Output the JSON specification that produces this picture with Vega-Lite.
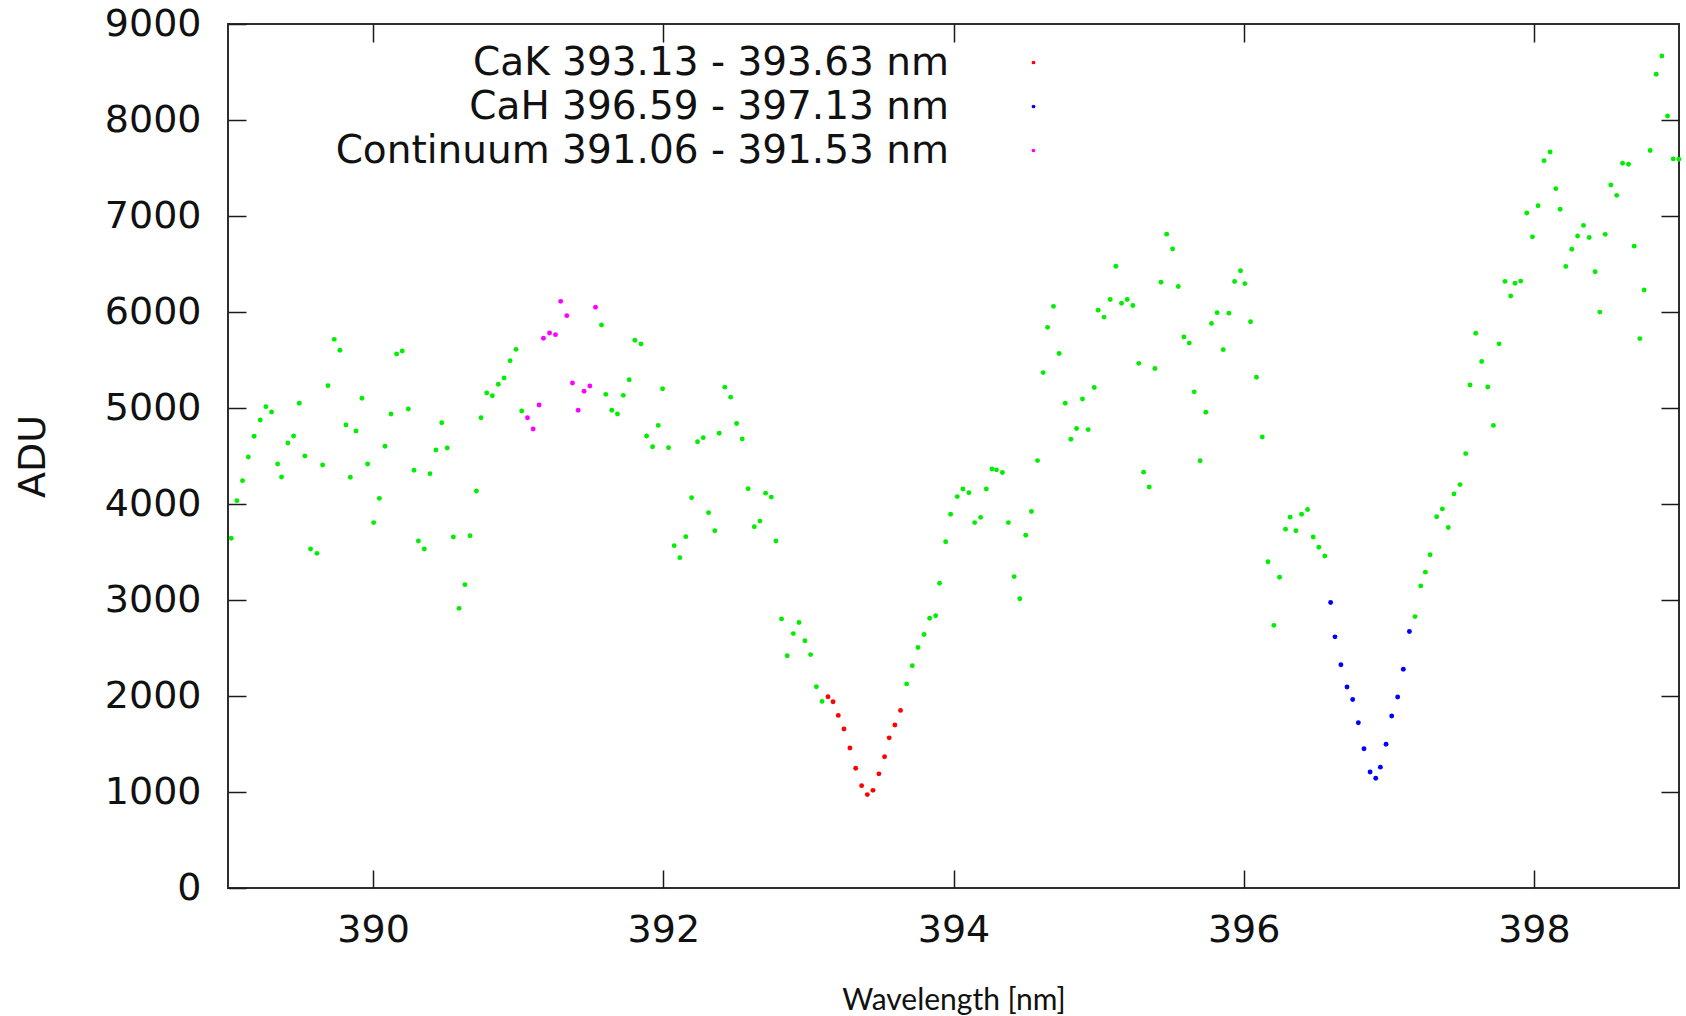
{
  "$schema": "https://vega.github.io/schema/vega-lite/v6.json",
  "autosize": {"type": "none"},
  "padding": {"left": 228, "top": 24, "right": 7, "bottom": 128},
  "width": 1451,
  "height": 864,
  "background": "white",
  "datasets": {
    "spectrum": [
      {"wl": 389.022, "adu": 3643}, {"wl": 389.061, "adu": 4035}, {"wl": 389.100, "adu": 4243}, {"wl": 389.140, "adu": 4490},
      {"wl": 389.180, "adu": 4705}, {"wl": 389.222, "adu": 4875}, {"wl": 389.261, "adu": 5014}, {"wl": 389.300, "adu": 4958},
      {"wl": 389.342, "adu": 4417}, {"wl": 389.369, "adu": 4281}, {"wl": 389.413, "adu": 4635}, {"wl": 389.452, "adu": 4708},
      {"wl": 389.491, "adu": 5049}, {"wl": 389.530, "adu": 4500}, {"wl": 389.569, "adu": 3531}, {"wl": 389.613, "adu": 3486},
      {"wl": 389.652, "adu": 4406}, {"wl": 389.689, "adu": 5233}, {"wl": 389.732, "adu": 5715}, {"wl": 389.771, "adu": 5601},
      {"wl": 389.813, "adu": 4823}, {"wl": 389.843, "adu": 4278}, {"wl": 389.882, "adu": 4760}, {"wl": 389.923, "adu": 5101},
      {"wl": 389.962, "adu": 4417}, {"wl": 390.004, "adu": 3806}, {"wl": 390.043, "adu": 4059}, {"wl": 390.082, "adu": 4601},
      {"wl": 390.123, "adu": 4937}, {"wl": 390.162, "adu": 5562}, {"wl": 390.201, "adu": 5594}, {"wl": 390.243, "adu": 4990},
      {"wl": 390.282, "adu": 4351}, {"wl": 390.312, "adu": 3615}, {"wl": 390.353, "adu": 3531}, {"wl": 390.392, "adu": 4316},
      {"wl": 390.433, "adu": 4562}, {"wl": 390.473, "adu": 4847}, {"wl": 390.511, "adu": 4583}, {"wl": 390.553, "adu": 3656},
      {"wl": 390.592, "adu": 2913}, {"wl": 390.633, "adu": 3160}, {"wl": 390.668, "adu": 3670}, {"wl": 390.712, "adu": 4135},
      {"wl": 390.744, "adu": 4899}, {"wl": 390.783, "adu": 5156}, {"wl": 390.822, "adu": 5128}, {"wl": 390.863, "adu": 5247},
      {"wl": 390.903, "adu": 5312}, {"wl": 390.944, "adu": 5493}, {"wl": 390.985, "adu": 5611}, {"wl": 391.024, "adu": 4969},
      {"wl": 391.574, "adu": 5865}, {"wl": 391.604, "adu": 5142}, {"wl": 391.645, "adu": 4976}, {"wl": 391.684, "adu": 4937},
      {"wl": 391.724, "adu": 5132}, {"wl": 391.765, "adu": 5295}, {"wl": 391.804, "adu": 5705}, {"wl": 391.846, "adu": 5667},
      {"wl": 391.885, "adu": 4708}, {"wl": 391.926, "adu": 4597}, {"wl": 391.965, "adu": 4819}, {"wl": 391.995, "adu": 5201},
      {"wl": 392.036, "adu": 4587}, {"wl": 392.075, "adu": 3566}, {"wl": 392.114, "adu": 3441}, {"wl": 392.155, "adu": 3660},
      {"wl": 392.195, "adu": 4066}, {"wl": 392.236, "adu": 4649}, {"wl": 392.275, "adu": 4691}, {"wl": 392.312, "adu": 3910},
      {"wl": 392.355, "adu": 3722}, {"wl": 392.385, "adu": 4737}, {"wl": 392.424, "adu": 5217}, {"wl": 392.464, "adu": 5113},
      {"wl": 392.505, "adu": 4838}, {"wl": 392.544, "adu": 4678}, {"wl": 392.585, "adu": 4160}, {"wl": 392.627, "adu": 3763},
      {"wl": 392.666, "adu": 3822}, {"wl": 392.705, "adu": 4113}, {"wl": 392.744, "adu": 4072}, {"wl": 392.776, "adu": 3614},
      {"wl": 392.815, "adu": 2803}, {"wl": 392.854, "adu": 2420}, {"wl": 392.896, "adu": 2650}, {"wl": 392.935, "adu": 2766},
      {"wl": 392.976, "adu": 2576}, {"wl": 393.015, "adu": 2431}, {"wl": 393.055, "adu": 2096}, {"wl": 393.094, "adu": 1944},
      {"wl": 393.677, "adu": 2126}, {"wl": 393.716, "adu": 2316}, {"wl": 393.755, "adu": 2505}, {"wl": 393.797, "adu": 2640},
      {"wl": 393.836, "adu": 2810}, {"wl": 393.877, "adu": 2836}, {"wl": 393.904, "adu": 3175}, {"wl": 393.946, "adu": 3606},
      {"wl": 393.980, "adu": 3893}, {"wl": 394.026, "adu": 4077}, {"wl": 394.065, "adu": 4157}, {"wl": 394.106, "adu": 4117},
      {"wl": 394.146, "adu": 3806}, {"wl": 394.187, "adu": 3861}, {"wl": 394.226, "adu": 4157}, {"wl": 394.265, "adu": 4365},
      {"wl": 394.296, "adu": 4356}, {"wl": 394.337, "adu": 4328}, {"wl": 394.378, "adu": 3806}, {"wl": 394.418, "adu": 3244},
      {"wl": 394.457, "adu": 3013}, {"wl": 394.498, "adu": 3675}, {"wl": 394.537, "adu": 3922}, {"wl": 394.579, "adu": 4452},
      {"wl": 394.618, "adu": 5369}, {"wl": 394.648, "adu": 5840}, {"wl": 394.689, "adu": 6059}, {"wl": 394.728, "adu": 5568},
      {"wl": 394.770, "adu": 5050}, {"wl": 394.809, "adu": 4675}, {"wl": 394.848, "adu": 4786}, {"wl": 394.889, "adu": 5094},
      {"wl": 394.928, "adu": 4775}, {"wl": 394.970, "adu": 5214}, {"wl": 394.997, "adu": 6019}, {"wl": 395.038, "adu": 5947},
      {"wl": 395.080, "adu": 6130}, {"wl": 395.119, "adu": 6477}, {"wl": 395.158, "adu": 6091}, {"wl": 395.197, "adu": 6130},
      {"wl": 395.236, "adu": 6067}, {"wl": 395.277, "adu": 5465}, {"wl": 395.310, "adu": 4332}, {"wl": 395.349, "adu": 4177},
      {"wl": 395.388, "adu": 5412}, {"wl": 395.430, "adu": 6310}, {"wl": 395.469, "adu": 6811}, {"wl": 395.510, "adu": 6656},
      {"wl": 395.549, "adu": 6266}, {"wl": 395.588, "adu": 5740}, {"wl": 395.625, "adu": 5676}, {"wl": 395.659, "adu": 5168},
      {"wl": 395.700, "adu": 4451}, {"wl": 395.739, "adu": 4956}, {"wl": 395.778, "adu": 5881}, {"wl": 395.817, "adu": 5993},
      {"wl": 395.859, "adu": 5608}, {"wl": 395.898, "adu": 5988}, {"wl": 395.937, "adu": 6317}, {"wl": 395.978, "adu": 6429},
      {"wl": 396.008, "adu": 6296}, {"wl": 396.047, "adu": 5898}, {"wl": 396.088, "adu": 5320}, {"wl": 396.128, "adu": 4698},
      {"wl": 396.167, "adu": 3398}, {"wl": 396.208, "adu": 2736}, {"wl": 396.247, "adu": 3237}, {"wl": 396.288, "adu": 3738},
      {"wl": 396.320, "adu": 3863}, {"wl": 396.360, "adu": 3722}, {"wl": 396.399, "adu": 3894}, {"wl": 396.440, "adu": 3942},
      {"wl": 396.479, "adu": 3656}, {"wl": 396.518, "adu": 3549}, {"wl": 396.559, "adu": 3458},
      {"wl": 397.181, "adu": 2827}, {"wl": 397.220, "adu": 3147}, {"wl": 397.252, "adu": 3290}, {"wl": 397.285, "adu": 3471},
      {"wl": 397.330, "adu": 3867}, {"wl": 397.369, "adu": 3949}, {"wl": 397.410, "adu": 3755}, {"wl": 397.449, "adu": 4105},
      {"wl": 397.491, "adu": 4202}, {"wl": 397.530, "adu": 4525}, {"wl": 397.560, "adu": 5240}, {"wl": 397.599, "adu": 5779},
      {"wl": 397.640, "adu": 5485}, {"wl": 397.682, "adu": 5218}, {"wl": 397.721, "adu": 4819}, {"wl": 397.760, "adu": 5668},
      {"wl": 397.801, "adu": 6319}, {"wl": 397.840, "adu": 6166}, {"wl": 397.870, "adu": 6300}, {"wl": 397.909, "adu": 6322},
      {"wl": 397.951, "adu": 7032}, {"wl": 397.990, "adu": 6783}, {"wl": 398.029, "adu": 7107}, {"wl": 398.070, "adu": 7576},
      {"wl": 398.112, "adu": 7666}, {"wl": 398.151, "adu": 7285}, {"wl": 398.181, "adu": 7070}, {"wl": 398.220, "adu": 6475},
      {"wl": 398.261, "adu": 6653}, {"wl": 398.301, "adu": 6791}, {"wl": 398.342, "adu": 6902}, {"wl": 398.381, "adu": 6776},
      {"wl": 398.422, "adu": 6419}, {"wl": 398.454, "adu": 5999}, {"wl": 398.491, "adu": 6809}, {"wl": 398.530, "adu": 7323},
      {"wl": 398.571, "adu": 7215}, {"wl": 398.611, "adu": 7550}, {"wl": 398.652, "adu": 7539}, {"wl": 398.691, "adu": 6686},
      {"wl": 398.730, "adu": 5723}, {"wl": 398.760, "adu": 6229}, {"wl": 398.801, "adu": 7683}, {"wl": 398.843, "adu": 8476},
      {"wl": 398.882, "adu": 8666}, {"wl": 398.921, "adu": 8041}, {"wl": 398.960, "adu": 7595}, {"wl": 398.999, "adu": 7591}
    ],
    "bands": [
      {"wl": 391.064, "adu": 4899, "band": "Continuum 391.06 - 391.53 nm"},
      {"wl": 391.103, "adu": 4781, "band": "Continuum 391.06 - 391.53 nm"},
      {"wl": 391.144, "adu": 5031, "band": "Continuum 391.06 - 391.53 nm"},
      {"wl": 391.174, "adu": 5726, "band": "Continuum 391.06 - 391.53 nm"},
      {"wl": 391.216, "adu": 5781, "band": "Continuum 391.06 - 391.53 nm"},
      {"wl": 391.257, "adu": 5764, "band": "Continuum 391.06 - 391.53 nm"},
      {"wl": 391.293, "adu": 6111, "band": "Continuum 391.06 - 391.53 nm"},
      {"wl": 391.335, "adu": 5962, "band": "Continuum 391.06 - 391.53 nm"},
      {"wl": 391.374, "adu": 5260, "band": "Continuum 391.06 - 391.53 nm"},
      {"wl": 391.413, "adu": 4976, "band": "Continuum 391.06 - 391.53 nm"},
      {"wl": 391.454, "adu": 5174, "band": "Continuum 391.06 - 391.53 nm"},
      {"wl": 391.494, "adu": 5229, "band": "Continuum 391.06 - 391.53 nm"},
      {"wl": 391.533, "adu": 6049, "band": "Continuum 391.06 - 391.53 nm"},
      {"wl": 393.135, "adu": 1992, "band": "CaK 393.13 - 393.63 nm"},
      {"wl": 393.170, "adu": 1940, "band": "CaK 393.13 - 393.63 nm"},
      {"wl": 393.206, "adu": 1798, "band": "CaK 393.13 - 393.63 nm"},
      {"wl": 393.245, "adu": 1657, "band": "CaK 393.13 - 393.63 nm"},
      {"wl": 393.286, "adu": 1459, "band": "CaK 393.13 - 393.63 nm"},
      {"wl": 393.326, "adu": 1248, "band": "CaK 393.13 - 393.63 nm"},
      {"wl": 393.367, "adu": 1066, "band": "CaK 393.13 - 393.63 nm"},
      {"wl": 393.406, "adu": 973, "band": "CaK 393.13 - 393.63 nm"},
      {"wl": 393.445, "adu": 1017, "band": "CaK 393.13 - 393.63 nm"},
      {"wl": 393.486, "adu": 1189, "band": "CaK 393.13 - 393.63 nm"},
      {"wl": 393.525, "adu": 1367, "band": "CaK 393.13 - 393.63 nm"},
      {"wl": 393.557, "adu": 1564, "band": "CaK 393.13 - 393.63 nm"},
      {"wl": 393.596, "adu": 1698, "band": "CaK 393.13 - 393.63 nm"},
      {"wl": 393.635, "adu": 1850, "band": "CaK 393.13 - 393.63 nm"},
      {"wl": 396.599, "adu": 2974, "band": "CaH 396.59 - 397.13 nm"},
      {"wl": 396.629, "adu": 2616, "band": "CaH 396.59 - 397.13 nm"},
      {"wl": 396.670, "adu": 2326, "band": "CaH 396.59 - 397.13 nm"},
      {"wl": 396.712, "adu": 2093, "band": "CaH 396.59 - 397.13 nm"},
      {"wl": 396.751, "adu": 1964, "band": "CaH 396.59 - 397.13 nm"},
      {"wl": 396.790, "adu": 1722, "band": "CaH 396.59 - 397.13 nm"},
      {"wl": 396.829, "adu": 1450, "band": "CaH 396.59 - 397.13 nm"},
      {"wl": 396.871, "adu": 1208, "band": "CaH 396.59 - 397.13 nm"},
      {"wl": 396.910, "adu": 1143, "band": "CaH 396.59 - 397.13 nm"},
      {"wl": 396.942, "adu": 1259, "band": "CaH 396.59 - 397.13 nm"},
      {"wl": 396.981, "adu": 1497, "band": "CaH 396.59 - 397.13 nm"},
      {"wl": 397.020, "adu": 1791, "band": "CaH 396.59 - 397.13 nm"},
      {"wl": 397.061, "adu": 1990, "band": "CaH 396.59 - 397.13 nm"},
      {"wl": 397.100, "adu": 2279, "band": "CaH 396.59 - 397.13 nm"},
      {"wl": 397.142, "adu": 2672, "band": "CaH 396.59 - 397.13 nm"}
    ]
  },
  "config": {
    "view": {"stroke": "#2e2e2e", "strokeWidth": 2},
    "axis": {
      "domain": false,
      "grid": false,
      "tickColor": "#1a1a1a",
      "tickWidth": 1.5,
      "tickSize": -18,
      "labelFont": "DejaVu Sans",
      "labelFontSize": 38,
      "labelColor": "#111111"
    }
  },
  "layer": [
    {
      "data": {"name": "spectrum"},
      "mark": {"type": "point", "filled": true, "shape": "circle", "size": 24, "opacity": 1, "color": "#00ee00"},
      "encoding": {
        "x": {
          "field": "wl", "type": "quantitative",
          "scale": {"domain": [389, 399], "nice": false, "zero": false},
          "axis": {
            "orient": "bottom", "values": [390, 392, 394, 396, 398], "format": "d",
            "labelPadding": 41,
            "title": "Wavelength [nm]", "titleFont": "Lato", "titleFontSize": 30, "titleFontWeight": "normal",
            "titleColor": "#111111", "titlePadding": 36
          }
        },
        "y": {
          "field": "adu", "type": "quantitative",
          "scale": {"domain": [0, 9000], "nice": false},
          "axis": {
            "orient": "left", "values": [0, 1000, 2000, 3000, 4000, 5000, 6000, 7000, 8000, 9000],
            "format": "d",
            "labelPadding": 45,
            "title": "ADU", "titleFont": "DejaVu Sans", "titleFontSize": 38, "titleFontWeight": "normal",
            "titleColor": "#111111", "titlePadding": 52
          }
        }
      }
    },
    {
      "data": {"name": "bands"},
      "mark": {"type": "point", "filled": true, "shape": "circle", "size": 24, "opacity": 1},
      "encoding": {
        "x": {
          "field": "wl", "type": "quantitative",
          "axis": {"orient": "top", "values": [390, 392, 394, 396, 398], "labels": false, "title": null}
        },
        "y": {
          "field": "adu", "type": "quantitative",
          "axis": {"orient": "right", "values": [1000, 2000, 3000, 4000, 5000, 6000, 7000, 8000], "labels": false, "title": null}
        },
        "color": {
          "field": "band", "type": "nominal",
          "scale": {
            "domain": ["CaK 393.13 - 393.63 nm", "CaH 396.59 - 397.13 nm", "Continuum 391.06 - 391.53 nm"],
            "range": ["#ff0000", "#0000ff", "#ff00ff"]
          },
          "legend": {
            "orient": "none", "legendX": 786, "legendY": 19,
            "title": null, "padding": 0,
            "labelAlign": "right", "labelOffset": -104,
            "labelFont": "DejaVu Sans", "labelFontSize": 39, "labelColor": "#111111",
            "labelLimit": 0,
            "symbolType": "circle", "symbolSize": 14, "symbolStrokeWidth": 0,
            "rowPadding": 4
          }
        }
      }
    }
  ],
  "resolve": {"axis": {"x": "independent", "y": "independent"}}
}
